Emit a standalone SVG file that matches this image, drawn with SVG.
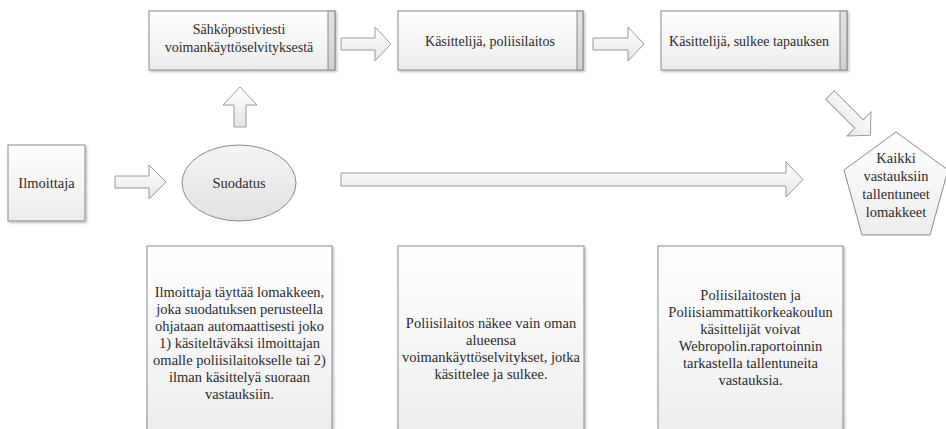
<svg xmlns="http://www.w3.org/2000/svg" width="946" height="429" viewBox="0 0 946 429" font-family="Liberation Serif, Times New Roman, serif">
<defs>
<linearGradient id="boxG" x1="0" y1="0" x2="0" y2="1"><stop offset="0" stop-color="#ffffff"/><stop offset="1" stop-color="#ececec"/></linearGradient>
<linearGradient id="arrG" x1="0" y1="0" x2="0" y2="1"><stop offset="0" stop-color="#ffffff"/><stop offset="1" stop-color="#e6e6e6"/></linearGradient>
<linearGradient id="ellG" x1="0" y1="0" x2="0" y2="1"><stop offset="0" stop-color="#f4f4f4"/><stop offset="1" stop-color="#e2e2e2"/></linearGradient>
<linearGradient id="sideG" x1="0" y1="0" x2="0" y2="1"><stop offset="0" stop-color="#e4e4e4"/><stop offset="1" stop-color="#cfcfcf"/></linearGradient>
<filter id="sh" x="-10%" y="-10%" width="130%" height="130%"><feDropShadow dx="1.5" dy="1.5" stdDeviation="1" flood-color="#000" flood-opacity="0.25"/></filter>
</defs>
<style>
.box{fill:url(#boxG);stroke:#8a8a8a;stroke-width:1}
.side{fill:url(#sideG);stroke:#8a8a8a;stroke-width:1}
.arr{fill:url(#arrG);stroke:#9a9a9a;stroke-width:1;stroke-linejoin:miter}
.t{font-size:14.5px;fill:#2b2b2b;text-anchor:middle}
.s{font-size:14px}
</style>
<rect width="946" height="429" fill="#ffffff"/>

<g id="connectors">
<polygon class="arr" points="341,38 375,38 375,27 391,44 375,61 375,50 341,50"/>
<polygon class="arr" points="593,38 628,38 628,27 644,44 628,61 628,50 593,50"/>
<polygon class="arr" points="234,127 234,105 223,105 240,87 257,105 246,105 246,127"/>
<polygon class="arr" points="115,176 149,176 149,165 166,182 149,199 149,188 115,188"/>
<polygon class="arr" points="341,173 786,173 786,162 803,179.5 786,197 786,186 341,186"/>
<polygon class="arr" transform="translate(830,95) rotate(45)" points="0,-6 41,-6 41,-17 57,0 41,17 41,6 0,6"/>
</g>

<g id="email">
<rect class="box" x="149" y="11" width="186" height="59" filter="url(#sh)"/>
<rect class="side" x="328" y="11" width="7" height="59"/>
<text class="t s" x="239" y="34">Sähköpostiviesti</text>
<text class="t s" x="239" y="52">voimankäyttöselvityksestä</text>
</g>

<g id="kasittelija-poliisilaitos">
<rect class="box" x="398" y="11" width="185" height="59" filter="url(#sh)"/>
<rect class="side" x="577" y="11" width="6" height="59"/>
<text class="t s" x="490" y="46">Käsittelijä, poliisilaitos</text>
</g>

<g id="kasittelija-sulkee">
<rect class="box" x="661" y="11" width="186" height="59" filter="url(#sh)"/>
<rect class="side" x="840" y="11" width="7" height="59"/>
<text class="t s" x="749" y="46">Käsittelijä, sulkee tapauksen</text>
</g>

<g id="ilmoittaja">
<rect class="box" x="8" y="145" width="77" height="76" filter="url(#sh)"/>
<text class="t" x="46.5" y="188">Ilmoittaja</text>
</g>

<g id="suodatus">
<ellipse cx="239" cy="183" rx="57" ry="38" fill="url(#ellG)" stroke="#8a8a8a" stroke-width="1"/>
<text class="t" x="239" y="188">Suodatus</text>
</g>

<g id="kaikki">
<polygon points="896,132 844,170 862,235 930,235 948,170" fill="url(#boxG)" stroke="#8a8a8a" stroke-width="1"/>
<text class="t" x="896" y="163">Kaikki</text>
<text class="t" x="896" y="181">vastauksiin</text>
<text class="t" x="896" y="199">tallentuneet</text>
<text class="t" x="896" y="217">lomakkeet</text>
</g>

<g id="info-ilmoittaja">
<rect class="box" x="147" y="246" width="185" height="200" filter="url(#sh)"/>
<text class="t" x="239.5" y="297">Ilmoittaja täyttää lomakkeen,</text>
<text class="t" x="239.5" y="314">joka suodatuksen perusteella</text>
<text class="t" x="239.5" y="331">ohjataan automaattisesti joko</text>
<text class="t" x="239.5" y="348">1) käsiteltäväksi ilmoittajan</text>
<text class="t" x="239.5" y="365">omalle poliisilaitokselle tai 2)</text>
<text class="t" x="239.5" y="382">ilman käsittelyä suoraan</text>
<text class="t" x="239.5" y="399">vastauksiin.</text>
</g>

<g id="info-poliisilaitos">
<rect class="box" x="398" y="246" width="186" height="200" filter="url(#sh)"/>
<text class="t" x="491" y="328">Poliisilaitos näkee vain oman</text>
<text class="t" x="491" y="345">alueensa</text>
<text class="t" x="491" y="362">voimankäyttöselvitykset, jotka</text>
<text class="t" x="491" y="379">käsittelee ja sulkee.</text>
</g>

<g id="info-raportointi">
<rect class="box" x="658" y="246" width="185" height="200" filter="url(#sh)"/>
<text class="t" x="750.5" y="300">Poliisilaitosten ja</text>
<text class="t" x="750.5" y="317">Poliisiammattikorkeakoulun</text>
<text class="t" x="750.5" y="334">käsittelijät voivat</text>
<text class="t" x="750.5" y="351">Webropolin.raportoinnin</text>
<text class="t" x="750.5" y="368">tarkastella tallentuneita</text>
<text class="t" x="750.5" y="385">vastauksia.</text>
</g>
</svg>
